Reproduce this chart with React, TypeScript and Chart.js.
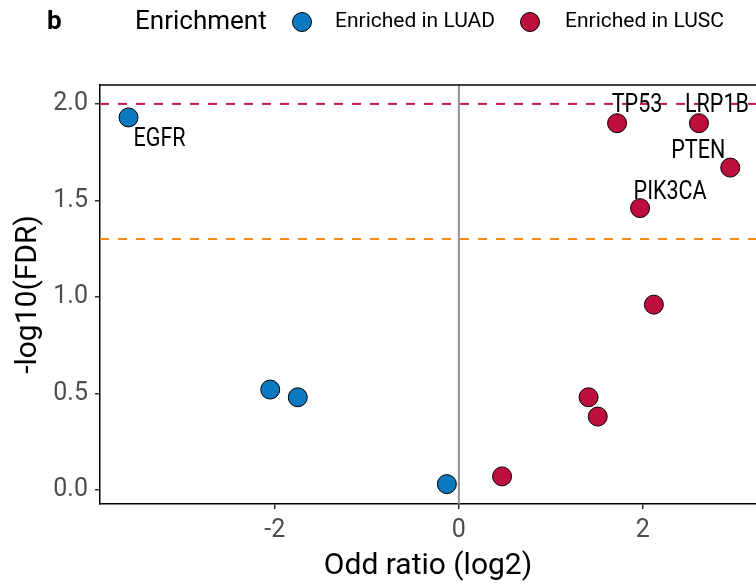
import React, { useEffect, useRef } from "react";
import { Chart, registerables } from "chart.js";

Chart.register(...registerables);

// ---- data ----
const luadX = [-3.59, -2.05, -1.75, -0.13];
const luadY = [1.93, 0.52, 0.48, 0.03];
const luadLabels = ["EGFR", "", "", ""];

const luscX = [0.47, 1.41, 1.51, 2.12, 1.97, 1.72, 2.61, 2.95];
const luscY = [0.07, 0.48, 0.38, 0.96, 1.46, 1.9, 1.9, 1.67];
const luscLabels = ["", "", "", "", "PIK3CA", "TP53", "LRP1B", "PTEN"];

const xTicks = [-2, 0, 2];
const yTicks = [0, 0.5, 1.0, 1.5, 2.0];
const fdrLine = 2.0;
const cutoffLine = 1.3;
const legendTitle = "Enrichment";
const seriesNames = ["Enriched in LUAD", "Enriched in LUSC"];

// ---- style ----
const BLUE = "#0A79C0";
const RED = "#BD0E3E";
const FONT = "Roboto, 'Noto Sans', sans-serif";

// label offsets (dx, dy) from point centre, per label name
const labelOffsets: Record<string, [number, number]> = {
  EGFR: [31, 22],
  TP53: [20, -17],
  LRP1B: [18, -17],
  PTEN: [-32, -16],
  PIK3CA: [30, -15],
};

export default function App() {
  const ref = useRef<HTMLCanvasElement | null>(null);

  useEffect(() => {
    document.body.style.margin = "0";
    const canvas = ref.current;
    if (!canvas) return;

    const overlay = {
      id: "overlay",
      beforeDatasetsDraw(chart: any) {
        const { ctx, chartArea, scales } = chart;
        const x = scales.x;
        const y = scales.y;
        ctx.save();
        // vertical zero line
        ctx.strokeStyle = "#8E8E8E";
        ctx.lineWidth = 2;
        const x0 = x.getPixelForValue(0);
        ctx.beginPath();
        ctx.moveTo(x0, chartArea.top);
        ctx.lineTo(x0, chartArea.bottom);
        ctx.stroke();
        // dashed lines
        ctx.setLineDash([9, 9]);
        ctx.lineWidth = 2;
        ctx.strokeStyle = "#C41A4E";
        let yy = y.getPixelForValue(fdrLine);
        ctx.beginPath();
        ctx.moveTo(chartArea.left, yy);
        ctx.lineTo(chartArea.right, yy);
        ctx.stroke();
        ctx.strokeStyle = "#FF8A10";
        yy = y.getPixelForValue(cutoffLine);
        ctx.beginPath();
        ctx.moveTo(chartArea.left, yy);
        ctx.lineTo(chartArea.right, yy);
        ctx.stroke();
        ctx.restore();
      },
      afterDatasetsDraw(chart: any) {
        const { ctx, chartArea, scales } = chart;
        const x = scales.x;
        const y = scales.y;
        ctx.save();
        // top border
        ctx.strokeStyle = "#000";
        ctx.lineWidth = 1.5;
        ctx.beginPath();
        ctx.moveTo(chartArea.left, chartArea.top);
        ctx.lineTo(chartArea.right, chartArea.top);
        ctx.stroke();
        // point labels (slightly condensed)
        ctx.fillStyle = "#000";
        ctx.font = `25px ${FONT}`;
        ctx.textAlign = "center";
        ctx.textBaseline = "middle";
        const draw = (xs: number[], ys: number[], labels: string[]) => {
          labels.forEach((lab, i) => {
            if (!lab) return;
            const off = labelOffsets[lab] || [0, -18];
            ctx.save();
            ctx.translate(
              x.getPixelForValue(xs[i]) + off[0],
              y.getPixelForValue(ys[i]) + off[1]
            );
            ctx.scale(0.86, 1);
            ctx.fillText(lab, 0, 0);
            ctx.restore();
          });
        };
        draw(luadX, luadY, luadLabels);
        draw(luscX, luscY, luscLabels);

        // legend
        ctx.textAlign = "left";
        ctx.font = `bold 26px ${FONT}`;
        ctx.fillText("b", 47, 22);
        ctx.font = `26px ${FONT}`;
        ctx.fillText(legendTitle, 135, 22);
        const items: [string, string, number, number][] = [
          [seriesNames[0], BLUE, 302, 335],
          [seriesNames[1], RED, 530, 565],
        ];
        ctx.font = `21px ${FONT}`;
        items.forEach(([name, col, cx, tx]) => {
          ctx.beginPath();
          ctx.arc(cx, 22, 9.5, 0, Math.PI * 2);
          ctx.fillStyle = col;
          ctx.fill();
          ctx.lineWidth = 1;
          ctx.strokeStyle = "#000";
          ctx.stroke();
          ctx.fillStyle = "#000";
          ctx.fillText(name, tx, 22);
        });
        ctx.restore();
      },
    };

    const chart = new Chart(canvas, {
      type: "scatter",
      data: {
        datasets: [
          {
            label: seriesNames[0],
            data: luadX.map((v, i) => ({ x: v, y: luadY[i] })),
            backgroundColor: BLUE,
            borderColor: "#000",
            borderWidth: 1,
            pointRadius: 9.5,
          },
          {
            label: seriesNames[1],
            data: luscX.map((v, i) => ({ x: v, y: luscY[i] })),
            backgroundColor: RED,
            borderColor: "#000",
            borderWidth: 1,
            pointRadius: 9.5,
          },
        ],
      },
      options: {
        responsive: false,
        animation: false,
        layout: { autoPadding: false, padding: { top: 85, left: 0, right: 0, bottom: 0 } },
        plugins: {
          legend: { display: false },
          tooltip: { enabled: false },
        },
        scales: {
          x: {
            type: "linear",
            min: -3.9,
            max: 3.23,
            afterBuildTicks: (s: any) => {
              s.ticks = xTicks.map((v) => ({ value: v }));
            },
            afterFit: (s: any) => {
              s.height = 84;
            },
            ticks: {
              color: "#4D4D4D",
              font: { family: FONT, size: 25 },
              padding: 7,
              callback: (v: any) => String(v),
            },
            grid: {
              drawOnChartArea: false,
              drawTicks: true,
              tickLength: 5,
              color: "#333",
              lineWidth: 1.5,
            },
            border: { display: true, color: "#000", width: 1.5 },
            title: {
              display: true,
              text: "Odd ratio (log2)",
              color: "#000",
              font: { family: FONT, size: 30 },
              padding: { top: 0, bottom: 4 },
            },
          },
          y: {
            type: "linear",
            min: -0.073,
            max: 2.098,
            afterBuildTicks: (s: any) => {
              s.ticks = yTicks.map((v) => ({ value: v }));
            },
            afterFit: (s: any) => {
              s.width = 100;
            },
            ticks: {
              color: "#4D4D4D",
              font: { family: FONT, size: 25 },
              padding: 7,
              callback: (v: any) => Number(v).toFixed(1),
            },
            grid: {
              drawOnChartArea: false,
              drawTicks: true,
              tickLength: 5,
              color: "#333",
              lineWidth: 1.5,
            },
            border: { display: true, color: "#000", width: 1.5 },
            title: {
              display: true,
              text: "-log10(FDR)",
              color: "#000",
              font: { family: FONT, size: 30 },
              padding: { top: 10, bottom: 0 },
            },
          },
        },
      },
      plugins: [overlay],
    });

    return () => chart.destroy();
  }, []);

  return (
    <div style={{ width: 756, height: 588 }}>
      <canvas ref={ref} width={756} height={588} />
    </div>
  );
}
